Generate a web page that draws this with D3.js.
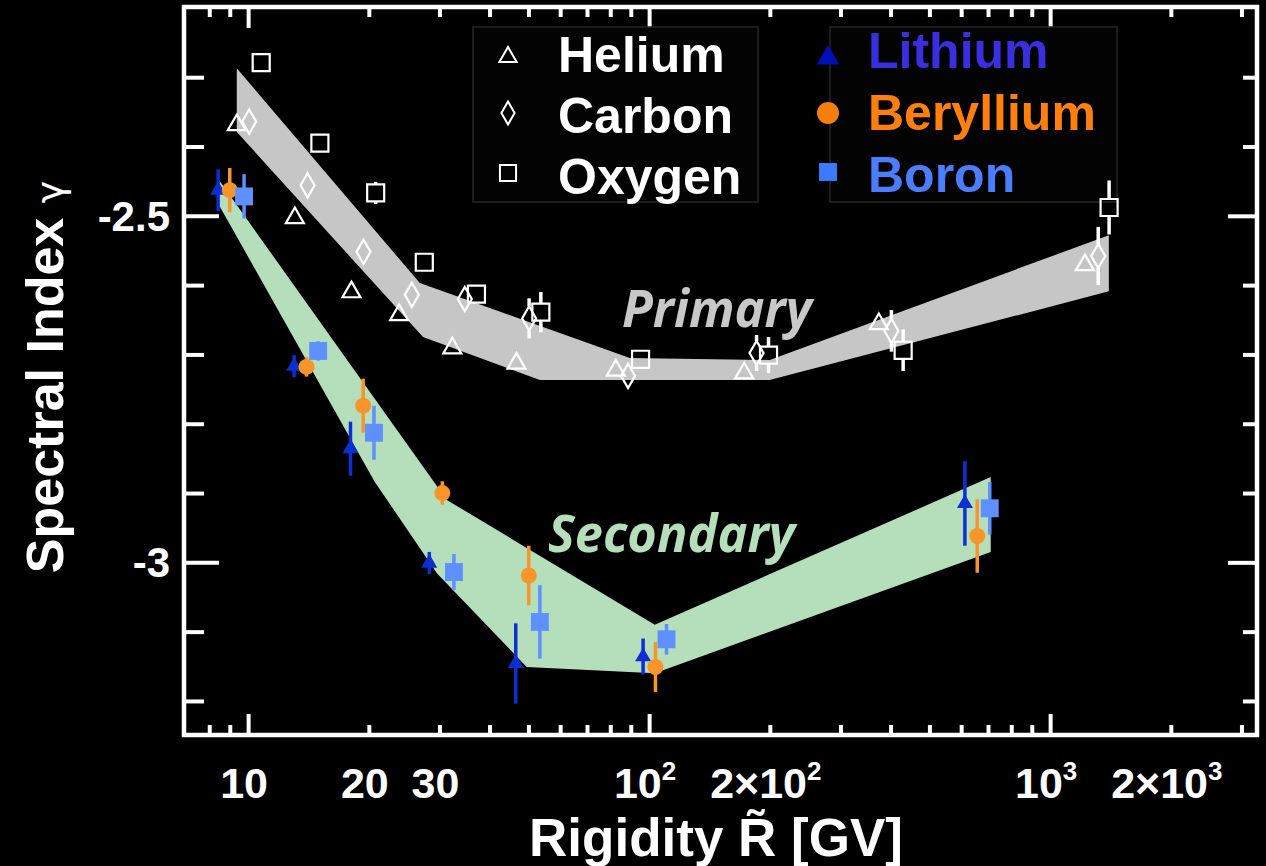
<!DOCTYPE html>
<html><head><meta charset="utf-8">
<script src="https://cdn.jsdelivr.net/npm/d3@7"></script>
<style>html,body{margin:0;padding:0;background:#000;}svg{display:block}</style>
</head><body>
<svg id="chart" width="1266" height="866"></svg>
<script>
// ---------------- data ----------------
const heliumR   = [9.37, 13.08, 18.1, 23.8, 32.3, 46.7, 82.6, 172.6, 374, 1221];
const heliumG   = [-2.369, -2.503, -2.610, -2.643, -2.691, -2.713, -2.723, -2.727, -2.656, -2.571];
const heliumErr = [0, 0, 0, 0, 0, 0, 0, 0, 0, 0];

const carbonR   = [10.06, 14.07, 19.4, 25.6, 34.7, 50.2, 88.6, 185.3, 402, 1318];
const carbonG   = [-2.364, -2.456, -2.552, -2.614, -2.620, -2.648, -2.731, -2.698, -2.666, -2.558];
const carbonErr = [0, 0, 0, 0, 0, 0.029, 0, 0.026, 0.030, 0.042];

const oxygenR   = [10.78, 15.1, 20.8, 27.5, 37.1, 53.7, 95.2, 198.5, 430, 1403];
const oxygenG   = [-2.279, -2.395, -2.467, -2.567, -2.613, -2.639, -2.707, -2.701, -2.694, -2.488];
const oxygenErr = [0, 0, 0.016, 0, 0, 0.029, 0, 0.026, 0.030, 0.039];

const lithiumR   = [8.42, 13.02, 18.0, 28.3, 46.5, 96.6, 613];
const lithiumG   = [-2.463, -2.717, -2.836, -3.001, -3.146, -3.136, -2.915];
const lithiumErr = [0.030, 0.016, 0.039, 0.016, 0.058, 0.026, 0.061];

const berylliumR   = [9.0, 13.98, 19.36, 30.5, 50.1, 103.7, 658];
const berylliumG   = [-2.463, -2.718, -2.774, -2.900, -3.019, -3.151, -2.962];
const berylliumErr = [0.032, 0.014, 0.039, 0.017, 0.043, 0.036, 0.053];

const boronR   = [9.77, 14.95, 20.6, 32.6, 53.4, 110.5, 707];
const boronG   = [-2.472, -2.695, -2.813, -3.014, -3.086, -3.111, -2.922];
const boronErr = [0.032, 0.014, 0.039, 0.026, 0.053, 0.022, 0.038];

// bands (upper and lower edges)
const primaryUpperR = [9.37, 26.8, 89.5, 199.8, 1401];
const primaryUpperG = [-2.287, -2.597, -2.705, -2.708, -2.528];
const primaryLowerR = [9.37, 27.3, 53.4, 199.8, 1401];
const primaryLowerG = [-2.379, -2.675, -2.737, -2.737, -2.609];

const secondaryUpperR = [8.45, 31.3, 103.3, 711];
const secondaryUpperG = [-2.448, -2.910, -3.090, -2.877];
const secondaryLowerR = [8.45, 20.7, 29.6, 49.5, 103.3, 711];
const secondaryLowerG = [-2.484, -2.884, -3.016, -3.151, -3.160, -2.985];

// ticks
const xMajorTicks = [10, 100, 1000];
const xMinorTicks = [8, 9, 20, 30, 40, 50, 60, 70, 80, 90, 200, 300, 400, 500, 600, 700, 800, 900, 2000, 3000];
const xLabelValues = [10, 20, 30, 100, 200, 1000, 2000];
const xLabelBase   = ["10", "20", "30", "10", "2×10", "10", "2×10"];
const xLabelSup    = ["", "", "", "2", "2", "3", "3"];
const yMajorTicks = [-2.5, -3];
const yMinorTicks = [-2.3, -2.4, -2.6, -2.7, -2.8, -2.9, -3.1, -3.2];
const yLabelValues = [-2.5, -3];
const yLabelText   = ["-2.5", "-3"];

const legend1Names = ["Helium", "Carbon", "Oxygen"];
const legend2Names = ["Lithium", "Beryllium", "Boron"];

// ---------------- drawing ----------------
const svg = d3.select("#chart");
svg.append("rect").attr("width",1266).attr("height",866).attr("fill","#000");

const L = 184, R = 1257, T = 7, B = 735;
const x = d3.scaleLog().domain([6.92, 3280]).range([L, R]);
const y = d3.scaleLinear().domain([-3.25, -2.2]).range([735.6, 7.9]);

const FONT = "'Liberation Sans', Arial, Helvetica, sans-serif";

// bands
function band(uR, uG, lR, lG, color) {
  const pts = uR.map((r,i)=>[r,uG[i]]).concat(lR.map((r,i)=>[r,lG[i]]).reverse());
  svg.append("path")
    .attr("d", d3.line().x(d=>x(d[0])).y(d=>y(d[1]))(pts) + "Z")
    .attr("fill", color);
}
band(primaryUpperR, primaryUpperG, primaryLowerR, primaryLowerG, "#c6c6c6");
band(secondaryUpperR, secondaryUpperG, secondaryLowerR, secondaryLowerG, "#b4dfba");

// band labels
svg.append("text").attr("x", 622).attr("y", 327).text("Primary")
  .attr("font-family","'Open Sans', 'Noto Sans', sans-serif").attr("font-style","italic")
  .attr("font-weight",700).attr("font-size",52).attr("fill","#c8c8c8")
  .attr("textLength",190).attr("lengthAdjust","spacingAndGlyphs");
svg.append("text").attr("x", 548).attr("y", 552).text("Secondary")
  .attr("font-family","'Open Sans', 'Noto Sans', sans-serif").attr("font-style","italic")
  .attr("font-weight",700).attr("font-size",52).attr("fill","#b4dfba")
  .attr("textLength",247).attr("lengthAdjust","spacingAndGlyphs");

// axes ticks
function styleAxis(g){
  g.select(".domain").remove();
  g.selectAll(".tick line").attr("stroke","#fff").attr("stroke-width",4);
  g.selectAll(".tick text").remove();
}
svg.append("g").attr("transform",`translate(0,${B})`)
  .call(d3.axisBottom(x).tickValues(xMinorTicks).tickSize(-10).tickFormat("")).call(styleAxis);
svg.append("g").attr("transform",`translate(0,${B})`)
  .call(d3.axisBottom(x).tickValues(xMajorTicks).tickSize(-21).tickFormat("")).call(styleAxis);
svg.append("g").attr("transform",`translate(0,${T})`)
  .call(d3.axisTop(x).tickValues(xMinorTicks).tickSize(-10).tickFormat("")).call(styleAxis);
svg.append("g").attr("transform",`translate(0,${T})`)
  .call(d3.axisTop(x).tickValues(xMajorTicks).tickSize(-21).tickFormat("")).call(styleAxis);
svg.append("g").attr("transform",`translate(${L},0)`)
  .call(d3.axisLeft(y).tickValues(yMinorTicks).tickSize(-20).tickFormat("")).call(styleAxis);
svg.append("g").attr("transform",`translate(${L},0)`)
  .call(d3.axisLeft(y).tickValues(yMajorTicks).tickSize(-35).tickFormat("")).call(styleAxis);
svg.append("g").attr("transform",`translate(${R},0)`)
  .call(d3.axisRight(y).tickValues(yMinorTicks).tickSize(-14).tickFormat("")).call(styleAxis);
svg.append("g").attr("transform",`translate(${R},0)`)
  .call(d3.axisRight(y).tickValues(yMajorTicks).tickSize(-29).tickFormat("")).call(styleAxis);

// frame
svg.append("rect").attr("x",L).attr("y",T).attr("width",R-L).attr("height",B-T)
  .attr("fill","none").attr("stroke","#fff").attr("stroke-width",4.5);

// x tick labels
xLabelValues.forEach((v,i)=>{
  const t = svg.append("text").attr("x", x(v)-4).attr("y", 798)
    .attr("text-anchor","middle").attr("font-family",FONT).attr("font-weight",700)
    .attr("font-size",43).attr("fill","#fff");
  t.append("tspan").text(xLabelBase[i]);
  if (xLabelSup[i]) t.append("tspan").attr("font-size",26).attr("dy",-18).text(xLabelSup[i]);
});
// y tick labels
yLabelValues.forEach((v,i)=>{
  svg.append("text").attr("x",170).attr("y",y(v)+15).attr("text-anchor","end")
    .attr("font-family",FONT).attr("font-weight",700).attr("font-size",42)
    .attr("fill","#fff").text(yLabelText[i]);
});
// axis titles
svg.append("text").attr("x",716).attr("y",856).attr("text-anchor","middle")
  .attr("font-family",FONT).attr("font-weight",700).attr("font-size",53)
  .attr("fill","#fff").text("Rigidity R\u0303 [GV]");
const yt = svg.append("text").attr("transform","translate(63,377) rotate(-90)")
  .attr("text-anchor","middle").attr("font-family",FONT).attr("font-weight",700)
  .attr("font-size",52).attr("fill","#fff");
yt.append("tspan").text("Spectral Index ");
yt.append("tspan").attr("font-weight",400).attr("font-size",38)
  .attr("font-family","'DejaVu Sans', sans-serif").text("γ");

// legends
function legendBox(x0, y0, w, h){
  svg.append("rect").attr("x",x0).attr("y",y0).attr("width",w).attr("height",h)
    .attr("fill","#020302").attr("stroke","#262626").attr("stroke-width",1.5);
}
legendBox(473, 27, 285, 175);
legendBox(830, 27, 287, 175);

const sym = (type, size) => d3.symbol().type(type).size(size)();
const leg1Sym = [[d3.symbolTriangle,130],[d3.symbolDiamond,150],[d3.symbolSquare,260]];
const leg1Y = [57, 113, 173];
const leg1Base = [72, 133, 194];
legend1Names.forEach((n,i)=>{
  svg.append("path").attr("d", sym(leg1Sym[i][0], leg1Sym[i][1]))
    .attr("transform",`translate(508,${leg1Y[i]})`)
    .attr("fill","none").attr("stroke","#fff").attr("stroke-width",2);
  svg.append("text").attr("x",558).attr("y",leg1Base[i]).text(n)
    .attr("font-family",FONT).attr("font-weight",700).attr("font-size",50).attr("fill","#fff");
});
const leg2Sym = [[d3.symbolTriangle,220,"#0010b8"],[d3.symbolCircle,380,"#f57f0a"],[d3.symbolSquare,320,"#3a7cff"]];
const leg2Y = [58, 113, 172];
const leg2Base = [68, 130, 192];
const leg2TextColor = ["#3a2ee0", "#ff7f0e", "#4a7eff"];
legend2Names.forEach((n,i)=>{
  svg.append("path").attr("d", sym(leg2Sym[i][0], leg2Sym[i][1]))
    .attr("transform",`translate(828,${leg2Y[i]})`).attr("fill",leg2Sym[i][2]);
  svg.append("text").attr("x",868).attr("y",leg2Base[i]).text(n)
    .attr("font-family",FONT).attr("font-weight",700).attr("font-size",50).attr("fill",leg2TextColor[i]);
});

// primary (open markers)
function openSeries(Rs, Gs, errs, type, size, halfH){
  Rs.forEach((r,i)=>{
    const cx = x(r), cy = y(Gs[i]);
    if (errs[i] > 0) {
      const top = y(Gs[i]+errs[i]), bot = y(Gs[i]-errs[i]);
      svg.append("line").attr("x1",cx).attr("x2",cx).attr("y1",top).attr("y2",cy-halfH)
        .attr("stroke","#fff").attr("stroke-width",3.5);
      svg.append("line").attr("x1",cx).attr("x2",cx).attr("y1",cy+halfH).attr("y2",bot)
        .attr("stroke","#fff").attr("stroke-width",3.5);
    }
    svg.append("path").attr("d", sym(type,size)).attr("transform",`translate(${cx},${cy})`)
      .attr("fill","none").attr("stroke","#fff").attr("stroke-width",2.2);
  });
}
openSeries(heliumR, heliumG, heliumErr, d3.symbolTriangle, 140, 9);
openSeries(carbonR, carbonG, carbonErr, d3.symbolDiamond, 170, 12);
openSeries(oxygenR, oxygenG, oxygenErr, d3.symbolSquare, 290, 8.5);

// secondary (filled markers)
function filledSeries(Rs, Gs, errs, type, size, color){
  Rs.forEach((r,i)=>{
    const cx = x(r), cy = y(Gs[i]);
    svg.append("line").attr("x1",cx).attr("x2",cx)
      .attr("y1",y(Gs[i]+errs[i])).attr("y2",y(Gs[i]-errs[i]))
      .attr("stroke",color).attr("stroke-width",3.5);
    svg.append("path").attr("d", sym(type,size)).attr("transform",`translate(${cx},${cy})`)
      .attr("fill",color);
  });
}
filledSeries(lithiumR, lithiumG, lithiumErr, d3.symbolTriangle, 110, "#0b2fd1");
filledSeries(berylliumR, berylliumG, berylliumErr, d3.symbolCircle, 200, "#f7942a");
filledSeries(boronR, boronG, boronErr, d3.symbolSquare, 320, "#5f90ff");
</script>
</body></html>
